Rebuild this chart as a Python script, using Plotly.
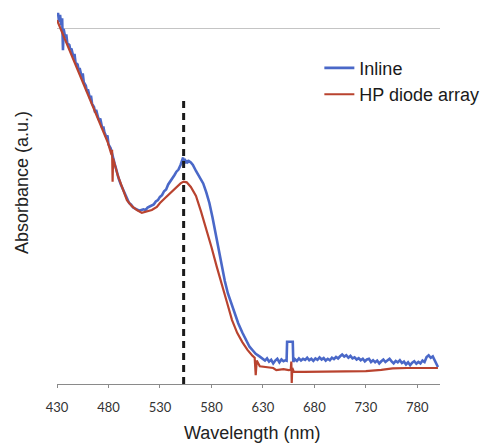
import plotly.graph_objects as go

# ---------------- data ----------------
inline_nm = [430, 431, 432, 433, 434, 435, 435.8, 436.5, 438, 439, 440, 442, 443, 444, 446, 447, 448, 450, 451, 452,
             454, 455, 456, 458, 459, 460, 462, 463, 464, 466, 467, 468, 470, 471, 472, 474, 475, 476, 478, 479,
             480, 482, 483, 484, 486, 487, 488, 490, 492, 494, 496, 498, 500, 502, 504, 506, 508, 510, 512, 514,
             516, 518, 520, 522, 524, 526, 528, 530, 532, 534, 536, 538, 540, 542, 544, 546, 548, 550, 551, 552,
             552.5, 553, 554, 555, 556, 557, 558, 560, 562, 565, 568, 572, 575, 578, 581, 584, 587, 590, 593, 596,
             600, 603, 606, 610, 614, 617, 620, 623, 627, 630, 632, 634, 636, 638, 640, 642, 644, 646, 648, 650,
             652, 653, 653.5, 659, 659.5, 661, 663, 665, 667, 669, 671, 673, 675, 677, 679, 681, 683, 685, 687, 689,
             691, 693, 695, 697, 699, 701, 703, 705, 707, 709, 711, 713, 715, 717, 719, 721, 723, 725, 727, 729,
             731, 733, 735, 737, 739, 741, 743, 745, 747, 749, 751, 753, 755, 757, 759, 761, 763, 765, 767, 769,
             771, 773, 775, 777, 779, 781, 783, 785, 787, 789, 791, 793, 795, 797, 799, 800]
inline_abs = [1.035, 1.045, 1.02, 1.04, 1.01, 1.03, 0.94, 1.0, 0.975, 0.985, 0.96, 0.955, 0.94, 0.945, 0.92, 0.93, 0.905, 0.9, 0.885, 0.89,
              0.865, 0.875, 0.85, 0.84, 0.825, 0.83, 0.805, 0.812, 0.79, 0.78, 0.765, 0.772, 0.75, 0.743, 0.748, 0.72, 0.725, 0.71, 0.695, 0.7,
              0.675, 0.665, 0.655, 0.64, 0.62, 0.61, 0.598, 0.578, 0.562, 0.548, 0.535, 0.52, 0.51, 0.505, 0.497, 0.494, 0.49, 0.488, 0.49, 0.492,
              0.49, 0.497, 0.5, 0.504, 0.506, 0.514, 0.518, 0.527, 0.532, 0.543, 0.548, 0.562, 0.57, 0.58, 0.588, 0.598, 0.604, 0.617, 0.625, 0.632,
              0.638, 0.62, 0.634, 0.622, 0.63, 0.625, 0.628, 0.624, 0.617, 0.60, 0.585, 0.565, 0.54, 0.51, 0.47, 0.425, 0.375, 0.328, 0.29, 0.255,
              0.22, 0.195, 0.171, 0.145, 0.12, 0.105, 0.095, 0.085, 0.077, 0.070, 0.066, 0.072, 0.063, 0.068, 0.058, 0.066, 0.071, 0.061, 0.069, 0.064,
              0.067, 0.066, 0.119, 0.119, 0.062, 0.070, 0.065, 0.072, 0.066, 0.071, 0.068, 0.074, 0.067, 0.071, 0.065, 0.072, 0.068, 0.075, 0.069, 0.073,
              0.066, 0.071, 0.067, 0.074, 0.070, 0.076, 0.072, 0.078, 0.083, 0.077, 0.081, 0.074, 0.079, 0.072, 0.075, 0.069, 0.073, 0.067, 0.071, 0.064,
              0.069, 0.071, 0.062, 0.067, 0.061, 0.066, 0.058, 0.064, 0.069, 0.062, 0.067, 0.071, 0.064, 0.058, 0.065, 0.061, 0.067, 0.059, 0.063, 0.055,
              0.061, 0.053, 0.060, 0.064, 0.057, 0.062, 0.058, 0.066, 0.062, 0.076, 0.081, 0.074, 0.078, 0.066, 0.058, 0.048]

hp_nm = [430, 435, 439.7, 445, 449.4, 455, 459.1, 465, 469.8, 474.6, 479.5, 483, 483.5, 484, 484.5, 489.2, 494, 497.9, 502.7, 507.6,
         512.4, 517.3, 522.1, 527, 530, 535, 540, 545, 550, 553, 556, 560, 565, 570, 575, 580, 585, 590, 595, 600,
         605, 610, 615, 620, 622, 623, 624, 627, 630, 634, 640, 643, 646, 650, 655, 657, 657.6, 658, 658.5, 660,
         670, 690, 710, 730, 745, 756, 770, 785, 800]
hp_abs = [1.025, 0.99, 0.958, 0.923, 0.890, 0.853, 0.823, 0.780, 0.746, 0.713, 0.679, 0.645, 0.66, 0.57, 0.635, 0.586, 0.546, 0.518, 0.501, 0.490,
          0.482, 0.485, 0.490, 0.499, 0.510, 0.524, 0.538, 0.552, 0.565, 0.570, 0.568, 0.555, 0.530, 0.485, 0.437, 0.386, 0.332, 0.285, 0.231, 0.180,
          0.144, 0.118, 0.096, 0.079, 0.074, 0.025, 0.066, 0.050, 0.049, 0.047, 0.045, 0.039, 0.041, 0.042, 0.039, 0.040, 0.063, 0.003, 0.045, 0.035,
          0.034, 0.034, 0.035, 0.036, 0.040, 0.044, 0.045, 0.046, 0.045]

peak_nm = [553, 553]
peak_marker_abs = [0.0, 0.806]
reference_abs = 1.0

x_tick_vals = [430, 480, 530, 580, 630, 680, 730, 780]
x_tick_text = ["430", "480", "530", "580", "630", "680", "730", "780"]

series_names = ["Inline", "HP diode array"]
series_colors = ["#4a68c8", "#b9432f"]

# ---------------- figure ----------------
fig = go.Figure()
fig.add_trace(go.Scatter(x=inline_nm, y=inline_abs, mode="lines", name=series_names[0],
                         line=dict(color=series_colors[0], width=2.6)))
fig.add_trace(go.Scatter(x=hp_nm, y=hp_abs, mode="lines", name=series_names[1],
                         line=dict(color=series_colors[1], width=2.2)))
fig.add_trace(go.Scatter(x=peak_nm, y=peak_marker_abs, mode="lines", showlegend=False,
                         line=dict(color="#1a1a1a", width=3, dash="7px,5px")))

# page body has an 8px margin, so the figure is sized/offset to compensate
fig.update_layout(
    width=488, height=436,
    margin=dict(l=49, r=56, t=2, b=60),
    plot_bgcolor="white", paper_bgcolor="white",
    font=dict(family="Liberation Sans, Arial, sans-serif", color="#222"),
    legend=dict(x=0.685, y=0.894, xanchor="left", yanchor="top",
                font=dict(size=18, color="#1a1a1a"), bgcolor="rgba(0,0,0,0)",
                tracegroupgap=0, itemwidth=30),
    xaxis=dict(range=[430, 802], tickvals=x_tick_vals, ticktext=x_tick_text,
               showline=True, linecolor="#8a8a8a", linewidth=1,
               ticks="outside", ticklen=3, tickcolor="#8a8a8a",
               showgrid=False, zeroline=False,
               tickfont=dict(family="Lato, sans-serif", size=13, color="#333"),
               ticklabelstandoff=8),
    yaxis=dict(range=[0, 1.0535], tickvals=[reference_abs], showticklabels=False,
               showgrid=True, gridcolor="#c4c4c4", gridwidth=1,
               showline=False, zeroline=False, ticks=""),
    annotations=[
        dict(text="Wavelength (nm)", xref="paper", yref="paper", x=0.51, y=-0.131,
             showarrow=False, font=dict(size=18, color="#222"), xanchor="center", yanchor="middle"),
        dict(text="Absorbance (a.u.)", xref="paper", yref="paper", x=-0.0914, y=0.54,
             showarrow=False, textangle=-90, font=dict(size=18, color="#222"),
             xanchor="center", yanchor="middle"),
    ],
)

fig.write_html("out.html")
